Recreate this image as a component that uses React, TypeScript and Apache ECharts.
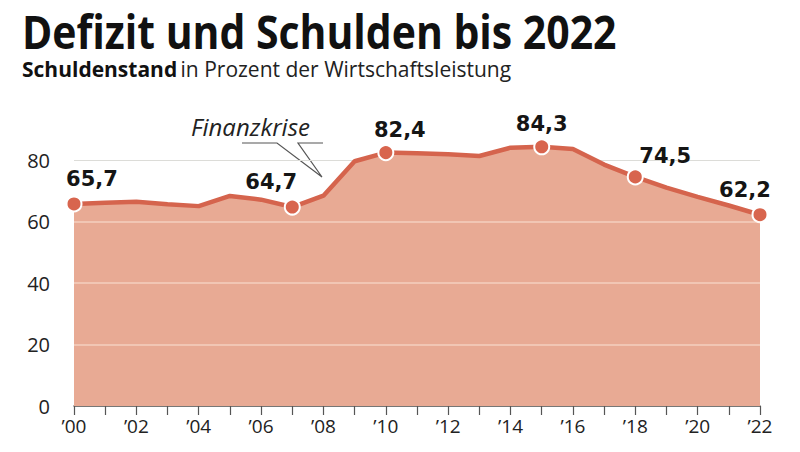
import React, { useEffect, useRef } from "react";
import * as echarts from "echarts";

const years = ["00","01","02","03","04","05","06","07","08","09","10","11","12","13","14","15","16","17","18","19","20","21","22"];
const debt = [65.7, 66.1, 66.4, 65.6, 65.0, 68.3, 67.1, 64.7, 68.4, 79.6, 82.4, 82.2, 81.9, 81.3, 84.0, 84.3, 83.6, 78.5, 74.5, 71.0, 68.0, 65.2, 62.2];
const highlighted = [0, 7, 10, 15, 18, 22];
const labelOffsets: Record<number, number[]> = { 0: [18, 0], 7: [-21, 0], 10: [14, 2], 15: [0, 2], 18: [30, 4], 22: [-15, 0] };
const yTicks = [0, 20, 40, 60, 80];

export default function App() {
  const ref = useRef<HTMLDivElement>(null);
  useEffect(() => {
    if (!ref.current) return;
    const chart = echarts.init(ref.current, undefined, { renderer: "svg" });
    const data = debt.map((v, i) => {
      const hl = highlighted.includes(i);
      return {
        value: v,
        symbol: hl ? "circle" : "none",
        symbolSize: hl ? 15 : 0,
        label: hl
          ? {
              show: true,
              position: "top",
              distance: 6,
              offset: labelOffsets[i],
              formatter: String(v).replace(".", ","),
              fontFamily: "DejaVu Sans",
              fontWeight: "bold",
              fontSize: 21,
              color: "#151515",
            }
          : { show: false },
      };
    });
    chart.setOption({
      animation: false,
      backgroundColor: "#ffffff",
      grid: { left: 74, right: 40, top: 160, bottom: 46 },
      xAxis: {
        type: "category",
        data: years,
        boundaryGap: false,
        axisLine: { lineStyle: { color: "#555", width: 1.5 } },
        axisTick: { show: true, interval: 0, length: 9, lineStyle: { color: "#555", width: 1.2 } },
        axisLabel: {
          interval: 1,
          formatter: (v: string) => "\u2019" + v,
          fontFamily: "Open Sans",
          fontSize: 19,
          color: "#222",
          margin: 10,
        },
      },
      yAxis: {
        type: "value",
        min: 0,
        max: 80,
        interval: 20,
        axisLine: { show: false },
        axisTick: { show: false },
        axisLabel: {
          fontFamily: "Open Sans",
          fontSize: 20,
          color: "#222",
          margin: 24,
          formatter: (v: number) => (yTicks.includes(v) ? String(v) : ""),
        },
        splitLine: { show: true, lineStyle: { color: "#dcdcd8", width: 1.2 } },
      },
      series: [
        {
          type: "line",
          data,
          clip: false,
          showAllSymbol: true,
          lineStyle: { color: "#d5644d", width: 4.5 },
          itemStyle: { color: "#d8654e", borderColor: "#ffffff", borderWidth: 2 },
          areaStyle: { color: "#e8aa94", opacity: 1 },
          markLine: {
            silent: true,
            symbol: "none",
            label: { show: false },
            lineStyle: { color: "rgba(255,238,228,0.55)", type: "solid", width: 1.5 },
            data: [{ yAxis: 20 }, { yAxis: 40 }, { yAxis: 60 }],
          },
          z: 3,
        },
      ],
      graphic: [
        {
          type: "text",
          x: 22,
          y: 8,
          scaleX: 0.89,
          style: {
            text: "Defizit und Schulden bis 2022",
            fontFamily: "Open Sans",
            fontWeight: "bold",
            fontSize: 46,
            fill: "#111",
            textVerticalAlign: "top",
          },
        },
        {
          type: "text",
          x: 22,
          y: 58,
          style: {
            text: "{b|Schuldenstand} {n|in Prozent der Wirtschaftsleistung}",
            rich: {
              b: { fontFamily: "Open Sans", fontWeight: "bold", fontSize: 21, fill: "#111" },
              n: { fontFamily: "Open Sans", fontSize: 21, fill: "#222" },
            },
          },
        },
        {
          type: "text",
          x: 191,
          y: 114,
          style: {
            text: "Finanzkrise",
            fontFamily: "Open Sans",
            fontStyle: "italic",
            fontSize: 24,
            fill: "#222",
          },
        },
        {
          type: "polyline",
          shape: { points: [[242, 143], [277, 143], [322, 177], [298, 143], [323, 143]] },
          style: { stroke: "#555", lineWidth: 1.2, fill: "none" },
        },
      ],
    });
    return () => chart.dispose();
  }, []);
  return <div ref={ref} style={{ width: 800, height: 452, margin: -8 }} />;
}
